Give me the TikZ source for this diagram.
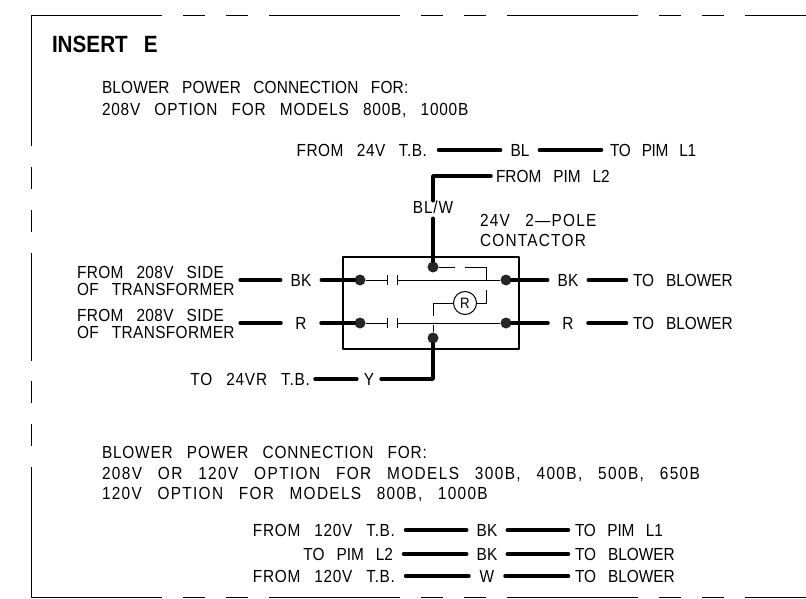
\documentclass[tikz,border=0pt]{standalone}
\usepackage{fontspec}
\setmainfont{Liberation Sans}[WordSpace=2.8,FakeStretch=0.88]
\usetikzlibrary{positioning}
\newcommand{\txtsize}{\fontsize{17.5}{17}\selectfont}
\tikzset{
  txt/.style={inner sep=0pt,outer sep=0pt,font=\txtsize,text height=12.5pt,text depth=0pt},
  ls/.style={txt,font=\txtsize\addfontfeature{LetterSpace=#1}},
  mid/.style={txt,minimum width=#1},
  mid/.default=20pt,
  wire/.style={line width=3.5pt,line cap=round,line join=round,shorten <=10pt,shorten >=10pt},
  thin wire/.style={line width=1pt},
  dot/.style={circle,fill=black!85,inner sep=0pt,minimum size=11pt},
  frame/.style={line width=1pt,dash pattern=on 131pt off 21pt on 22pt off 21pt on 22pt off 21pt}
}
\begin{document}
\begin{tikzpicture}[x=1pt,y=-1pt]
  \useasboundingbox (0,0) rectangle (806,599);
  % border
  \draw[frame] (31,16) -- (806,16);
  \draw[frame] (31,597) -- (806,597);
  \foreach \a/\b in {16/146,167/189,210/232,253/361,381/403,424/446,467/597}
    \draw[line width=1pt] (31,\a) -- (31,\b);
  % headings
  \node[txt,anchor=west,font=\fontsize{23.5}{24}\selectfont\bfseries,text height=17pt] (title) at (52,44) {INSERT E};
  \node[ls=1,anchor=west] (headA) at (102,87) {BLOWER POWER CONNECTION FOR:};
  \node[ls=4.5,anchor=west] (headB) at (102,109) {208V OPTION FOR MODELS 800B, 1000B};
  \node[ls=4.6,anchor=west] (headC) at (102,452) {BLOWER POWER CONNECTION FOR:};
  \node[ls=7.9,anchor=west] (headD) at (102,473) {208V OR 120V OPTION FOR MODELS 300B, 400B, 500B, 650B};
  \node[ls=7.5,anchor=west] (headE) at (102,493) {120V OPTION FOR MODELS 800B, 1000B};
  % upper wires
  \node[ls=3,anchor=east] (from24) at (427,150) {FROM 24V T.B.};
  \node[mid=18pt] (bl) at (520,150) {BL};
  \node[ls=-2,anchor=west] (toL1) at (610,150) {TO PIM L1};
  \draw[wire,shorten <=11.5pt] (from24) -- (bl);
  \draw[wire,shorten >=8.5pt] (bl) -- (toL1);
  \node[txt,anchor=west] (fromL2) at (496,176) {FROM PIM L2};
  \node[ls=5] (blw) at (433,207) {BL/W};
  \node[ls=7,anchor=west] (pole) at (480,220) {24V 2---POLE};
  \node[ls=7,anchor=west] (cont) at (480,240) {CONTACTOR};
  % contactor
  \node[draw,line width=2.8pt,line join=round,minimum width=176pt,minimum height=92pt] (box) at (431,303) {};
  \node[dot] (dotA) at (360,280) {};
  \node[dot] (dotB) at (506,280) {};
  \node[dot] (dotC) at (360,323) {};
  \node[dot] (dotD) at (506,323) {};
  \node[dot] (dotN) at (433,267) {};
  \node[dot] (dotS) at (433,338) {};
  \node[draw,circle,line width=1pt,minimum size=23pt,inner sep=0pt,font=\fontsize{15}{15}\selectfont] (coil) at (465,303) {R};
  \coordinate (capA) at (387,280);
  \coordinate (capB) at (397,280);
  \coordinate (capC) at (387,323);
  \coordinate (capD) at (397,323);
  \coordinate (auxA) at (455,267);
  \coordinate (auxB) at (465,267);
  \coordinate (auxC) at (486,280);
  \coordinate (auxD) at (486,290);
  \coordinate (auxE) at (433,316);
  \coordinate (auxF) at (433,325);
  \draw[thin wire] (dotA) -- (capA);
  \draw[thin wire] (capB) -- (dotB);
  \draw[thin wire] (dotC) -- (capC);
  \draw[thin wire] (capD) -- (dotD);
  \foreach \c in {capA,capB,capC,capD}
    \draw[thin wire] ([yshift=-5pt]\c) -- ([yshift=5pt]\c);
  \draw[thin wire] (dotN) -- (auxA);
  \draw[thin wire] (auxB) -| (auxC);
  \draw[thin wire] (auxD) |- (coil);
  \draw[thin wire] (coil) -| (auxE);
  \draw[thin wire] (auxF) -- (dotS);
  % contactor wires
  \draw[wire,shorten <=5pt,shorten >=0pt] (fromL2) -| (blw);
  \draw[wire,shorten <=5pt,shorten >=0pt] (blw) -- (dotN);
  \node[mid] (bkA) at (301,280) {BK};
  \node[mid] (rA) at (301,323) {R};
  \node[mid] (bkB) at (568,280) {BK};
  \node[mid] (rB) at (568,323) {R};
  \node[ls=2.2,anchor=west,align=left,text height=,text depth=] (sideA) at (77,281) {FROM 208V SIDE\\OF TRANSFORMER};
  \node[ls=2.2,anchor=west,align=left,text height=,text depth=] (sideB) at (77,324) {FROM 208V SIDE\\OF TRANSFORMER};
  \node[txt,anchor=west] (blowA) at (633,280) {TO BLOWER};
  \node[txt,anchor=west] (blowB) at (633,323) {TO BLOWER};
  \draw[wire,shorten <=5.5pt] (sideA.east |- bkA) -- (bkA);
  \draw[wire,shorten >=0pt] (bkA) -- (dotA);
  \draw[wire,shorten <=5.5pt] (sideB.east |- rA) -- (rA);
  \draw[wire,shorten >=0pt] (rA) -- (dotC);
  \draw[wire,shorten <=0pt] (dotB) -- (bkB);
  \draw[wire,shorten >=6.5pt] (bkB) -- (blowA);
  \draw[wire,shorten <=0pt] (dotD) -- (rB);
  \draw[wire,shorten >=6.5pt] (rB) -- (blowB);
  \node[ls=4.3,anchor=east] (to24) at (310,379) {TO 24VR T.B.};
  \node[txt] (y) at (369,379) {Y};
  \draw[wire,shorten <=5pt,shorten >=7pt] (to24) -- (y);
  \draw[wire,shorten <=7pt,shorten >=0pt] (y) -| (dotS);
  % lower table
  \node[ls=4,anchor=east] (from120a) at (395,530) {FROM 120V T.B.};
  \node[mid=16pt] (bkC) at (487,530) {BK};
  \node[ls=-1,anchor=west] (toL1b) at (575,530) {TO PIM L1};
  \node[txt,anchor=east] (toL2) at (393,554) {TO PIM L2};
  \node[mid=16pt] (bkD) at (487,554) {BK};
  \node[txt,anchor=west] (blowC) at (575,554) {TO BLOWER};
  \node[ls=4,anchor=east] (from120b) at (395,576) {FROM 120V T.B.};
  \node[mid=16pt] (wC) at (487,576) {W};
  \node[txt,anchor=west] (blowD) at (575,576) {TO BLOWER};
  \foreach \l/\m/\r in {from120a/bkC/toL1b,toL2/bkD/blowC,from120b/wC/blowD} {
    \draw[wire,shorten <=10.5pt] (\l) -- (\m);
    \draw[wire,shorten >=6.5pt] (\m) -- (\r);
  }
\end{tikzpicture}
\end{document}
